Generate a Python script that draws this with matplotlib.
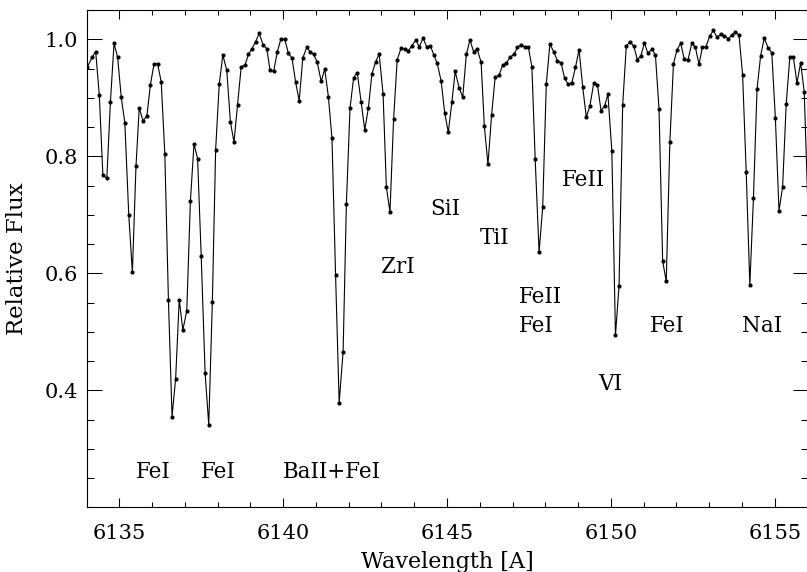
import matplotlib
matplotlib.use("Agg")
import matplotlib.pyplot as plt
from matplotlib.ticker import MultipleLocator, FixedLocator

# ---------------- data ----------------
wavelength = [
    6134.02, 6134.17, 6134.28, 6134.39, 6134.50, 6134.62, 6134.73, 6134.84, 6134.95, 6135.06,
    6135.17, 6135.29, 6135.40, 6135.51, 6135.61, 6135.72, 6135.84, 6135.95, 6136.06, 6136.17,
    6136.28, 6136.39, 6136.50, 6136.61, 6136.72, 6136.83, 6136.94, 6137.06, 6137.17, 6137.28,
    6137.39, 6137.50, 6137.62, 6137.73, 6137.84, 6137.94, 6138.05, 6138.16, 6138.28, 6138.39,
    6138.50, 6138.61, 6138.72, 6138.84, 6138.94, 6139.05, 6139.16, 6139.27, 6139.39, 6139.50,
    6139.60, 6139.71, 6139.82, 6139.93, 6140.05, 6140.16, 6140.27, 6140.38, 6140.49, 6140.60,
    6140.72, 6140.82, 6140.93, 6141.04, 6141.16, 6141.27, 6141.38, 6141.49, 6141.60, 6141.71,
    6141.83, 6141.93, 6142.04, 6142.15, 6142.26, 6142.38, 6142.49, 6142.60, 6142.71, 6142.82,
    6142.93, 6143.05, 6143.15, 6143.26, 6143.37, 6143.48, 6143.60, 6143.71, 6143.82, 6143.93,
    6144.05, 6144.15, 6144.27, 6144.38, 6144.49, 6144.60, 6144.70, 6144.82, 6144.93, 6145.04,
    6145.15, 6145.25, 6145.37, 6145.48, 6145.59, 6145.70, 6145.81, 6145.92, 6146.04, 6146.14,
    6146.25, 6146.36, 6146.47, 6146.59, 6146.70, 6146.81, 6146.92, 6147.04, 6147.15, 6147.26,
    6147.37, 6147.48, 6147.59, 6147.69, 6147.81, 6147.92, 6148.03, 6148.14, 6148.26, 6148.37,
    6148.48, 6148.59, 6148.70, 6148.81, 6148.92, 6149.03, 6149.14, 6149.25, 6149.36, 6149.48,
    6149.59, 6149.70, 6149.81, 6149.91, 6150.03, 6150.14, 6150.25, 6150.36, 6150.47, 6150.58,
    6150.70, 6150.81, 6150.92, 6151.02, 6151.13, 6151.25, 6151.36, 6151.47, 6151.58, 6151.69,
    6151.80, 6151.91, 6152.02, 6152.13, 6152.24, 6152.35, 6152.47, 6152.58, 6152.69, 6152.79,
    6152.90, 6153.02, 6153.13, 6153.24, 6153.35, 6153.46, 6153.58, 6153.69, 6153.80, 6153.91,
    6154.02, 6154.13, 6154.24, 6154.35, 6154.46, 6154.57, 6154.68, 6154.80, 6154.91, 6155.02,
    6155.13, 6155.24, 6155.35, 6155.46, 6155.57, 6155.68, 6155.79, 6155.90, 6156.02,
]

flux = [
    0.952, 0.969, 0.979, 0.905, 0.768, 0.762, 0.893, 0.993, 0.969, 0.901,
    0.857, 0.699, 0.602, 0.783, 0.883, 0.861, 0.868, 0.922, 0.958, 0.958,
    0.927, 0.804, 0.554, 0.355, 0.420, 0.555, 0.503, 0.536, 0.723, 0.821,
    0.796, 0.629, 0.429, 0.341, 0.551, 0.811, 0.923, 0.973, 0.947, 0.859,
    0.824, 0.888, 0.953, 0.956, 0.974, 0.984, 0.996, 1.010, 0.990, 0.984,
    0.947, 0.945, 0.978, 1.000, 1.000, 0.976, 0.968, 0.927, 0.895, 0.968,
    0.986, 0.979, 0.974, 0.961, 0.928, 0.949, 0.902, 0.831, 0.597, 0.379,
    0.466, 0.718, 0.882, 0.934, 0.943, 0.893, 0.845, 0.882, 0.941, 0.961,
    0.975, 0.906, 0.747, 0.705, 0.863, 0.965, 0.985, 0.983, 0.980, 0.989,
    0.999, 0.987, 1.002, 0.987, 0.989, 0.973, 0.959, 0.929, 0.874, 0.841,
    0.893, 0.945, 0.917, 0.901, 0.974, 0.999, 0.979, 0.983, 0.961, 0.851,
    0.786, 0.870, 0.935, 0.939, 0.956, 0.959, 0.969, 0.974, 0.986, 0.991,
    0.987, 0.987, 0.953, 0.796, 0.636, 0.713, 0.924, 0.992, 0.978, 0.963,
    0.960, 0.933, 0.923, 0.926, 0.952, 0.982, 0.919, 0.867, 0.886, 0.926,
    0.922, 0.878, 0.886, 0.906, 0.809, 0.494, 0.579, 0.887, 0.988, 0.996,
    0.988, 0.965, 0.972, 0.994, 0.976, 0.983, 0.973, 0.880, 0.621, 0.586,
    0.824, 0.958, 0.982, 0.993, 0.966, 0.964, 0.993, 0.986, 0.957, 0.986,
    0.987, 1.006, 1.015, 1.003, 1.009, 1.006, 1.001, 1.007, 1.013, 1.007,
    0.939, 0.773, 0.580, 0.728, 0.915, 0.972, 1.002, 0.985, 0.977, 0.865,
    0.707, 0.747, 0.889, 0.969, 0.969, 0.925, 0.960, 0.910, 0.700,
]

line_labels = ["FeI", "FeI", "BaII+FeI", "ZrI", "SiI", "TiI",
               "FeII", "FeI", "FeII", "VI", "FeI", "NaI"]
label_x = [6135.5, 6137.5, 6140.0, 6143.0, 6144.5, 6146.0,
           6147.2, 6147.2, 6148.5, 6149.6, 6151.2, 6154.0]
label_y = [0.25, 0.25, 0.25, 0.60, 0.70, 0.65,
           0.55, 0.50, 0.75, 0.40, 0.50, 0.50]

x_range = (6134, 6156)
y_range = (0.2, 1.05)
y_ticks = [0.4, 0.6, 0.8, 1.0]
x_ticks = [6135, 6140, 6145, 6150, 6155]

# ---------------- figure ----------------
plt.rcParams["font.family"] = ["DejaVu Serif"]
fig = plt.figure(figsize=(8.07, 5.72), dpi=100)
ax = fig.add_axes([86.5 / 807, 1 - 507.3 / 572, 721 / 807, 497.3 / 572])

ax.plot(wavelength, flux, color="black", lw=0.8, marker="o", ms=3.0,
        markeredgewidth=0, markerfacecolor="black")

ax.set_xlim(*x_range)
ax.set_ylim(*y_range)
ax.xaxis.set_major_locator(FixedLocator(x_ticks))
ax.xaxis.set_minor_locator(MultipleLocator(1))
ax.yaxis.set_major_locator(FixedLocator(y_ticks))
ax.yaxis.set_minor_locator(MultipleLocator(0.05))

ax.tick_params(axis="both", which="both", direction="in", top=True, right=True,
               width=0.75, colors="black")
ax.tick_params(axis="x", which="major", length=6.5, pad=12, labelsize=15)
ax.tick_params(axis="x", which="minor", length=3.4)
ax.tick_params(axis="y", which="major", length=10.6, pad=6, labelsize=15)
ax.tick_params(axis="y", which="minor", length=5.3)
for s in ax.spines.values():
    s.set_linewidth(0.8)

ax.set_xlabel("Wavelength [A]", fontsize=16, labelpad=5.5)
ax.set_ylabel("Relative Flux", fontsize=16.5, labelpad=12)

for t, xx, yy in zip(line_labels, label_x, label_y):
    ax.text(xx, yy, t, fontsize=15.5, ha="left", va="baseline")

fig.savefig("out.png", dpi=100)
